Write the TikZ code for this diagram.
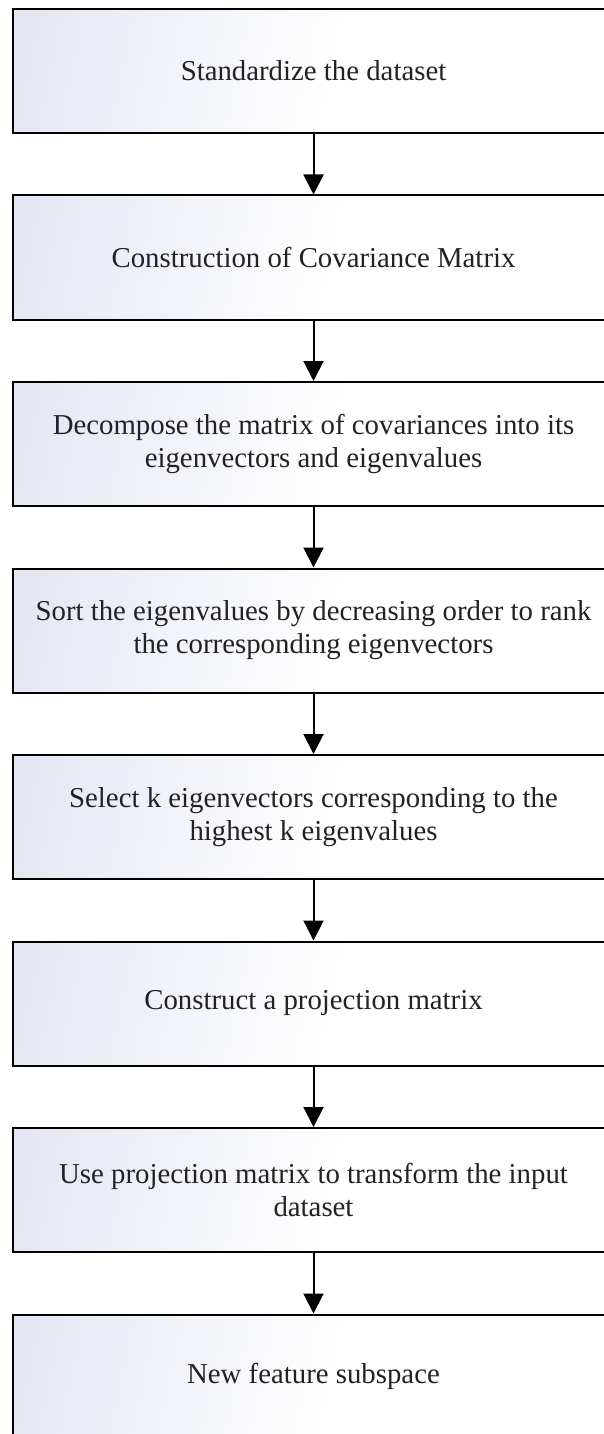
\documentclass[tikz,border=0pt]{standalone}
\usepackage{fontspec}
\setmainfont{Liberation Serif}
\usetikzlibrary{arrows.meta}

\definecolor{boxtint}{HTML}{E4E7F3}
\definecolor{inkgray}{HTML}{222222}

% soft tint in the upper left corner fading to white
\pgfdeclarehorizontalshading{boxfade}{100bp}{%
  color(0bp)=(boxtint); color(22bp)=(boxtint); color(52bp)=(white); color(100bp)=(white)}

\tikzset{
  stepbox/.style={draw=black, line width=2pt, shading=boxfade, shading angle=-12,
    minimum width=601pt, minimum height=124pt, inner sep=0pt,
    align=center, text=inkgray,
    font=\fontsize{28.8}{33}\selectfont},
  flow/.style={line width=2pt, -{Triangle[width=20pt,length=20pt]}}
}

\begin{document}
\begin{tikzpicture}[x=1pt,y=-1pt]
  \useasboundingbox (0,0) rectangle (603,1434);
  \fill[white] (0,0) rectangle (603,1434);

  \def\cx{313.5}
  \node[stepbox] (s1) at (\cx, 71.0)   {Standardize the dataset};
  \node[stepbox] (s2) at (\cx, 257.5)  {Construction of Covariance Matrix};
  \node[stepbox] (s3) at (\cx, 444.0)  {Decompose the matrix of covariances into its\\eigenvectors and eigenvalues};
  \node[stepbox] (s4) at (\cx, 630.5)  {Sort the eigenvalues by decreasing order to rank\\the corresponding eigenvectors};
  \node[stepbox] (s5) at (\cx, 817.0)  {Select k eigenvectors corresponding to the\\highest k eigenvalues};
  \node[stepbox] (s6) at (\cx, 1003.5) {Construct a projection matrix};
  \node[stepbox] (s7) at (\cx, 1190.0) {Use projection matrix to transform the input\\dataset};
  \node[stepbox] (s8) at (\cx, 1376.5) {New feature subspace};

  \foreach \a/\b in {s1/s2, s2/s3, s3/s4, s4/s5, s5/s6, s6/s7, s7/s8}
    \draw[flow] (\a.south) -- (\b.north);
\end{tikzpicture}
\end{document}
